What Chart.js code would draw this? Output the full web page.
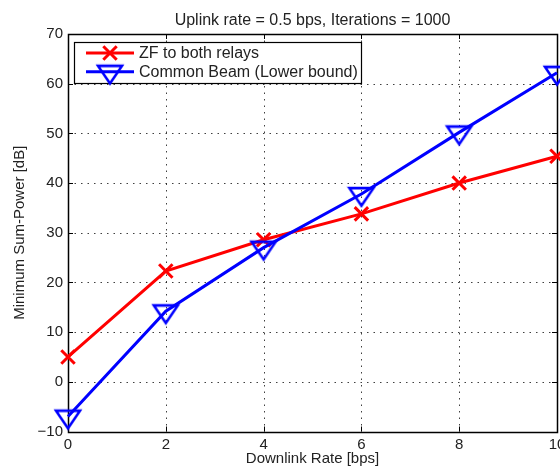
<!DOCTYPE html>
<html><head><meta charset="utf-8">
<script src="https://cdn.jsdelivr.net/npm/chart.js@4.4.1/dist/chart.umd.min.js"></script>
<style>html,body{margin:0;padding:0;background:#fff}#wrap{width:560px;height:468px}</style>
</head><body><div id="wrap"><canvas id="c" width="560" height="468"></canvas></div>
<script>
const titleText = 'Uplink rate = 0.5 bps, Iterations = 1000';
const xAxisLabel = 'Downlink Rate [bps]';
const yAxisLabel = 'Minimum Sum-Power [dB]';
const seriesNames = ['ZF to both relays', 'Common Beam (Lower bound)'];
const downlinkRates = [0, 2, 4, 6, 8, 10];
const zfBothRelays = [5.0, 22.3, 28.6, 33.8, 40.0, 45.4];
const commonBeamLB = [-7.0, 14.2, 27.0, 37.8, 50.2, 62.2];
const xTicks = [0, 2, 4, 6, 8, 10];
const yTicks = [-10, 0, 10, 20, 30, 40, 50, 60, 70];

const FONT = 'Liberation Sans, Arial, Helvetica, sans-serif';
const TXT = '#222';
const RED = '#ff0000', BLUE = '#0000ff';

function makeTri(color){
  const c = document.createElement('canvas');
  c.width = 30; c.height = 40;
  const g = c.getContext('2d');
  const h = 17.5, t = 20 - h/3;
  g.strokeStyle = color; g.lineWidth = 2.6; g.lineJoin = 'miter';
  g.beginPath(); g.moveTo(3, t); g.lineTo(27, t); g.lineTo(15, t + h); g.closePath(); g.stroke();
  return c;
}
const triImg = makeTri(BLUE);

const framePlugin = {
  id: 'frame',
  beforeDatasetsDraw(chart){
    const {ctx, chartArea: a, scales: {x, y}} = chart;
    ctx.save();
    ctx.lineWidth = 1;
    ctx.strokeStyle = 'rgba(0,0,0,0.75)';
    ctx.setLineDash([1.5, 5]);
    x.ticks.forEach(t => {
      const px = Math.round(x.getPixelForValue(t.value)) + 0.5;
      if (px <= a.left + 1 || px >= a.right - 1) return;
      ctx.beginPath(); ctx.moveTo(px, a.top); ctx.lineTo(px, a.bottom); ctx.stroke();
    });
    y.ticks.forEach(t => {
      const py = Math.round(y.getPixelForValue(t.value)) + 0.5;
      if (py <= a.top + 1 || py >= a.bottom - 1) return;
      ctx.beginPath(); ctx.moveTo(a.left, py); ctx.lineTo(a.right, py); ctx.stroke();
    });
    ctx.setLineDash([]);
    ctx.strokeStyle = '#000';
    ctx.lineWidth = 1;
    const L = 5;
    x.ticks.forEach(t => {
      const px = Math.round(x.getPixelForValue(t.value)) + 0.5;
      ctx.beginPath(); ctx.moveTo(px, a.bottom); ctx.lineTo(px, a.bottom - L);
      ctx.moveTo(px, a.top); ctx.lineTo(px, a.top + L); ctx.stroke();
    });
    y.ticks.forEach(t => {
      const py = Math.round(y.getPixelForValue(t.value)) + 0.5;
      ctx.beginPath(); ctx.moveTo(a.left, py); ctx.lineTo(a.left + L, py);
      ctx.moveTo(a.right, py); ctx.lineTo(a.right - L, py); ctx.stroke();
    });
    ctx.lineWidth = 1.5;
    ctx.strokeRect(Math.round(a.left) + 0.5, Math.round(a.top) + 0.5, Math.round(a.right - a.left), Math.round(a.bottom - a.top));
    ctx.restore();
  },
  afterDatasetsDraw(chart){
    const {ctx, chartArea: a} = chart;
    ctx.save();
    ctx.fillStyle = TXT;
    ctx.font = '16px ' + FONT;
    ctx.textAlign = 'center';
    ctx.textBaseline = 'alphabetic';
    ctx.fillText(titleText, (a.left + a.right) / 2, 24.5);
    ctx.fillStyle = '#fff';
    ctx.fillRect(74, 42, 288, 42);
    ctx.strokeStyle = '#000';
    ctx.lineWidth = 1.2;
    ctx.strokeRect(74.5, 42.5, 287, 41);
    const rows = [
      {y: 53, color: RED, name: seriesNames[0], marker: 'x'},
      {y: 71.7, color: BLUE, name: seriesNames[1], marker: 'tri'}
    ];
    rows.forEach(r => {
      ctx.strokeStyle = r.color; ctx.lineWidth = 3;
      ctx.beginPath(); ctx.moveTo(86, r.y); ctx.lineTo(134, r.y); ctx.stroke();
      if (r.marker === 'x') {
        const d = 6.7;
        ctx.beginPath(); ctx.moveTo(110 - d, r.y - d); ctx.lineTo(110 + d, r.y + d);
        ctx.moveTo(110 - d, r.y + d); ctx.lineTo(110 + d, r.y - d); ctx.stroke();
      } else {
        ctx.drawImage(triImg, 110 - triImg.width / 2, r.y - triImg.height / 2);
      }
      ctx.fillStyle = TXT;
      ctx.font = '16px ' + FONT;
      ctx.textAlign = 'left';
      ctx.textBaseline = 'middle';
      ctx.fillText(r.name, 139, r.y + 0.5);
    });
    ctx.restore();
  }
};

new Chart(document.getElementById('c'), {
  type: 'line',
  data: {
    labels: downlinkRates,
    datasets: [
      {
        label: seriesNames[0],
        data: downlinkRates.map((v, i) => ({x: v, y: zfBothRelays[i]})),
        borderColor: RED, backgroundColor: RED,
        borderWidth: 3, tension: 0,
        pointStyle: 'crossRot', pointRadius: 9.5, pointBorderWidth: 3,
        pointBorderColor: RED, clip: false, order: 1
      },
      {
        label: seriesNames[1],
        data: downlinkRates.map((v, i) => ({x: v, y: commonBeamLB[i]})),
        borderColor: BLUE, backgroundColor: BLUE,
        borderWidth: 3, tension: 0,
        pointStyle: triImg, pointRadius: 10,
        clip: false, order: 0
      }
    ]
  },
  options: {
    responsive: false,
    devicePixelRatio: 1,
    animation: false,
    events: [],
    layout: {autoPadding: false, padding: {top: 34, right: 3, left: 0, bottom: 0}},
    plugins: {legend: {display: false}, title: {display: false}, tooltip: {enabled: false}},
    scales: {
      x: {
        type: 'linear', min: 0, max: 10,
        afterBuildTicks: s => { s.ticks = xTicks.map(v => ({value: v})); },
        grid: {display: false, drawTicks: false},
        border: {display: false},
        ticks: {font: {family: FONT, size: 15}, color: TXT, padding: 4, maxRotation: 0, autoSkip: false},
        title: {display: true, text: xAxisLabel, font: {family: FONT, size: 15}, color: TXT, padding: {top: 0, bottom: 0.5}},
        afterFit: s => { s.height = 36.5; s.paddingLeft = 0; s.paddingRight = 0; }
      },
      y: {
        type: 'linear', min: -10, max: 70,
        afterBuildTicks: s => { s.ticks = yTicks.map(v => ({value: v})); },
        grid: {display: false, drawTicks: false},
        border: {display: false},
        ticks: {font: {family: FONT, size: 15}, color: TXT, padding: 5, autoSkip: false,
          callback: v => (v < 0 ? '\u2212' + Math.abs(v) : String(v))},
        title: {display: true, text: yAxisLabel, font: {family: FONT, size: 15}, color: TXT, padding: {top: 11, bottom: 0}},
        afterFit: s => { s.width = 68; s.paddingTop = 0; s.paddingBottom = 0; }
      }
    }
  },
  plugins: [framePlugin]
});
</script>
</body></html>
